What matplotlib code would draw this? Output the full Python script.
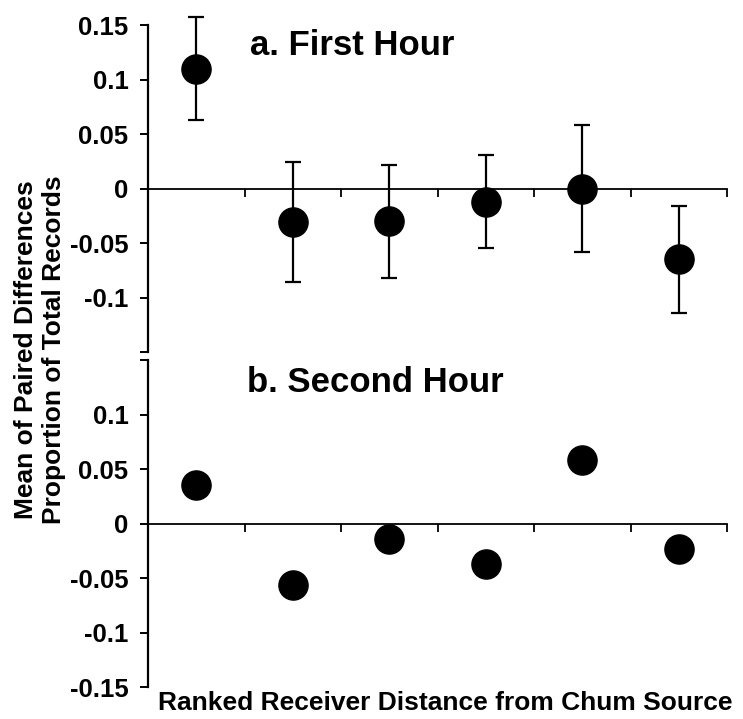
import matplotlib.pyplot as plt
import numpy as np
from matplotlib.ticker import FixedLocator, FixedFormatter

plt.rcParams['font.family'] = ['Liberation Sans', 'DejaVu Sans']
plt.rcParams['font.weight'] = 'bold'
plt.rcParams['axes.unicode_minus'] = False

# receivers ranked by distance, one point per receiver
rank = np.arange(1, 7) - 0.5

# a. first hour: mean of paired differences and error bars
first_mean = [0.110, -0.031, -0.030, -0.012, 0.000, -0.065]
first_err = [0.047, 0.055, 0.052, 0.043, 0.058, 0.049]

# b. second hour: means only
second_mean = [0.035, -0.056, -0.014, -0.037, 0.058, -0.023]

yticks = [0.15, 0.1, 0.05, 0, -0.05, -0.1, -0.15]
top_labels = ['0.15', '0.1', '0.05', '0', '-0.05', '-0.1', '']
bottom_labels = ['', '0.1', '0.05', '0', '-0.05', '-0.1', '-0.15']

fig = plt.figure(figsize=(7.43, 7.19), dpi=100)
ax1 = fig.add_axes([0.1992, 0.5104, 0.7793, 0.4548])
ax2 = fig.add_axes([0.1992, 0.0445, 0.7793, 0.4548])


def style(ax, labels, title, tx, ty):
    ax.set_xlim(0, 6)
    ax.set_ylim(-0.15, 0.15)
    ax.spines['top'].set_visible(False)
    ax.spines['right'].set_visible(False)
    ax.spines['left'].set_linewidth(1.6)
    ax.spines['bottom'].set_position(('data', 0))
    ax.spines['bottom'].set_linewidth(1.3)
    ax.yaxis.set_major_locator(FixedLocator(yticks))
    ax.yaxis.set_major_formatter(FixedFormatter(labels))
    ax.set_xticks(np.arange(1, 7))
    ax.set_xticklabels([])
    ax.tick_params(axis='y', direction='out', length=6, width=1.4,
                   labelsize=18.5, pad=8)
    ax.tick_params(axis='x', direction='out', length=6, width=1.3)
    ax.text(tx, ty, title, transform=ax.transAxes, fontsize=25,
            fontweight='bold', ha='left', va='center')


ax1.errorbar(rank, first_mean, yerr=first_err, fmt='o', color='black',
             markersize=21, elinewidth=1.6, capsize=6, capthick=1.6,
             zorder=3, clip_on=False)
style(ax1, top_labels, 'a. First Hour', 0.176, 0.936)

ax2.plot(rank, second_mean, 'o', color='black', markersize=21, zorder=3)
style(ax2, bottom_labels, 'b. Second Hour', 0.171, 0.930)

fig.text(40 / 743, 1 - 350 / 719,
         'Mean of Paired Differences\nProportion of Total Records',
         rotation=90, ha='center', va='center', multialignment='center',
         fontsize=19, fontweight='bold', linespacing=1.25)
fig.text(445 / 743, 1 - 703 / 719, 'Ranked Receiver Distance from Chum Source',
         ha='center', va='center', fontsize=19, fontweight='bold')

fig.savefig('out.png', dpi=100)
